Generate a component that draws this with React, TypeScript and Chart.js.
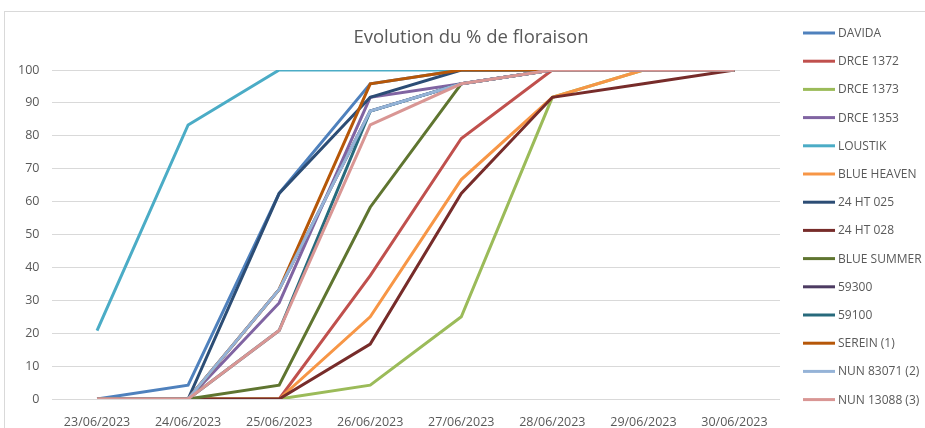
import React, { useEffect, useRef } from "react";
import { Chart, registerables } from "chart.js";

Chart.register(...registerables);

const dates = ["23/06/2023", "24/06/2023", "25/06/2023", "26/06/2023", "27/06/2023", "28/06/2023", "29/06/2023", "30/06/2023"];

const seriesNames = ["DAVIDA", "DRCE 1372", "DRCE 1373", "DRCE 1353", "LOUSTIK", "BLUE HEAVEN", "24 HT 025", "24 HT 028", "BLUE SUMMER", "59300", "59100", "SEREIN (1)", "NUN 83071 (2)", "NUN 13088 (3)"];

const seriesColors = ["#4F81BD", "#C0504D", "#9BBB59", "#8064A2", "#4BACC6", "#F79646", "#2C4D75", "#772C2A", "#5F7530", "#4D3B62", "#276A7C", "#B65708", "#95B3D7", "#D99694"];

const davida = [0, 4.2, 62.5, 95.8, 100, 100, 100, 100];
const drce1372 = [0, 0, 0, 37.5, 79.2, 100, 100, 100];
const drce1373 = [0, 0, 0, 4.2, 25, 91.7, 100, 100];
const drce1353 = [0, 0, 29.2, 91.7, 95.8, 100, 100, 100];
const loustik = [20.8, 83.3, 100, 100, 100, 100, 100, 100];
const blueHeaven = [0, 0, 0, 25, 66.7, 91.7, 100, 100];
const ht025 = [0, 0, 62.5, 91.7, 100, 100, 100, 100];
const ht028 = [0, 0, 0, 16.7, 62.5, 91.7, 95.8, 100];
const blueSummer = [0, 0, 4.2, 58.3, 95.8, 100, 100, 100];
const s59300 = [0, 0, 33.3, 87.5, 95.8, 100, 100, 100];
const s59100 = [0, 0, 20.8, 87.5, 95.8, 100, 100, 100];
const serein = [0, 0, 33.3, 95.8, 100, 100, 100, 100];
const nun83071 = [0, 0, 33.3, 87.5, 95.8, 100, 100, 100];
const nun13088 = [0, 0, 20.8, 83.3, 95.8, 100, 100, 100];

const seriesValues = [davida, drce1372, drce1373, drce1353, loustik, blueHeaven, ht025, ht028, blueSummer, s59300, s59100, serein, nun83071, nun13088];

const yTicks = [0, 10, 20, 30, 40, 50, 60, 70, 80, 90, 100];

const titleText = "Evolution du % de floraison";

const FONT = "'Open Sans', sans-serif";
const TEXT = "#595959";

const frameTitleLegend = {
  id: "frameTitleLegend",
  afterDraw(chart: any) {
    const ctx = chart.ctx;
    ctx.save();
    ctx.strokeStyle = "#d9d9d9";
    ctx.lineWidth = 1;
    ctx.strokeRect(4.5, 11.5, 2000, 2000);
    ctx.fillStyle = TEXT;
    ctx.font = `18.5px ${FONT}`;
    ctx.textAlign = "center";
    ctx.textBaseline = "middle";
    ctx.fillText(titleText, 471, 38);
    const ds = chart.data.datasets;
    ctx.font = `12px ${FONT}`;
    ctx.textAlign = "left";
    for (let i = 0; i < ds.length; i++) {
      const y = 33 + i * 28.2;
      ctx.strokeStyle = ds[i].borderColor;
      ctx.lineWidth = 3;
      ctx.lineCap = "butt";
      ctx.beginPath();
      ctx.moveTo(803, y);
      ctx.lineTo(835, y);
      ctx.stroke();
      ctx.fillStyle = TEXT;
      ctx.fillText(ds[i].label, 838, y + 0.5);
    }
    ctx.restore();
  },
};

export default function App() {
  const ref = useRef<HTMLCanvasElement>(null);
  useEffect(() => {
    const n = seriesNames.length;
    const chart = new Chart(ref.current!, {
      type: "line",
      data: {
        labels: dates,
        datasets: seriesNames.map((name, i) => ({
          label: name,
          data: seriesValues[i],
          borderColor: seriesColors[i],
          backgroundColor: seriesColors[i],
          borderWidth: 3,
          pointRadius: 0,
          tension: 0,
          fill: false,
          order: n - i,
        })),
      },
      options: {
        animation: false,
        responsive: false,
        maintainAspectRatio: false,
        layout: { padding: { left: 0, right: 145, top: 70, bottom: 0 } },
        plugins: {
          legend: { display: false },
          tooltip: { enabled: false },
          title: { display: false },
        },
        scales: {
          x: {
            offset: true,
            grid: { display: false },
            border: { display: false },
            ticks: { color: TEXT, font: { family: FONT, size: 12.5 }, padding: 8, maxRotation: 0, autoSkip: false },
            afterFit: (s: any) => { s.height = 29; },
          },
          y: {
            min: 0,
            max: 100,
            afterBuildTicks: (s: any) => { s.ticks = yTicks.map((v) => ({ value: v })); },
            grid: { color: "#d9d9d9", lineWidth: 1, drawTicks: false },
            border: { display: false },
            ticks: { color: TEXT, font: { family: FONT, size: 12.5 }, padding: 12 },
            afterFit: (s: any) => { s.width = 51.5; },
          },
        },
      },
      plugins: [frameTitleLegend],
    });
    return () => chart.destroy();
  }, []);
  return (
    <div style={{ position: "absolute", left: 0, top: 0, width: 925, height: 428, background: "#fff" }}>
      <canvas ref={ref} width={925} height={428} style={{ display: "block" }} />
    </div>
  );
}
